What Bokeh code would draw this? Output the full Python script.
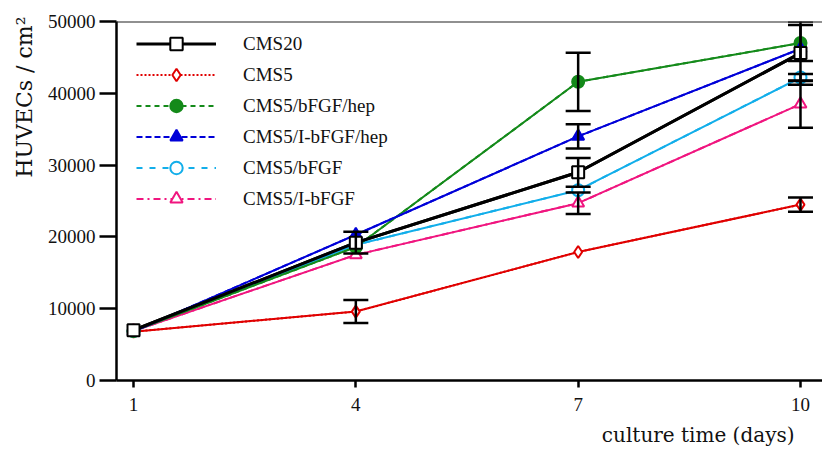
from bokeh.plotting import figure
from bokeh.models import (Range1d, FixedTicker, Whisker, TeeHead, ColumnDataSource,
                          Legend, LegendItem, Span, BasicTickFormatter, Title)
from bokeh.embed import file_html
from bokeh.resources import INLINE

# ---- data ----
days = [1, 4, 7, 10]
x_ticks = [1, 4, 7, 10]
y_ticks = [0, 10000, 20000, 30000, 40000, 50000]

names = ["CMS20", "CMS5", "CMS5/bFGF/hep", "CMS5/I-bFGF/hep", "CMS5/bFGF", "CMS5/I-bFGF"]
cms20 = [7000, 19200, 29000, 45600]
cms20_err = [0, 1500, 2000, 4400]
cms5 = [6800, 9600, 17900, 24500]
cms5_err = [0, 1600, 0, 1000]
cms5_bfgf_hep = [6900, 18600, 41600, 47000]
cms5_bfgf_hep_err = [0, 0, 4050, 2500]
cms5_ibfgf_hep = [6800, 20300, 34000, 46200]
cms5_ibfgf_hep_err = [0, 0, 1700, 0]
cms5_bfgf = [6900, 18900, 26500, 42200]
cms5_bfgf_err = [0, 0, 0, 500]
cms5_ibfgf = [6900, 17500, 24700, 38500]
cms5_ibfgf_err = [0, 0, 1500, 3300]

values = [cms20, cms5, cms5_bfgf_hep, cms5_ibfgf_hep, cms5_bfgf, cms5_ibfgf]
errors = [cms20_err, cms5_err, cms5_bfgf_hep_err, cms5_ibfgf_hep_err, cms5_bfgf_err, cms5_ibfgf_err]

x_title = "culture time (days)"
y_title = "HUVECs / cm²"

# ---- styles ----
colors = ["#000000", "#e00000", "#148a1a", "#0000d8", "#12aeea", "#f0157f"]
markers = ["square", "diamond", "circle", "triangle", "circle", "triangle"]
fills = ["white", "white", "#148a1a", "#0000d8", "white", "white"]
widths = [3, 2, 2, 2, 2, 2]
dashes = ["solid", "2 2", "5 4", "6 3", "6 7", "7 4 2 4"]
FONT = "Liberation Serif"
TFONT = "DejaVu Serif"

p = figure(width=822, height=453, title=None,
           x_range=Range1d(0.7706, 10.297), y_range=Range1d(0, 50000),
           output_backend="svg", toolbar_location=None,
           min_border_left=116, min_border_right=0, min_border_top=21, min_border_bottom=72)
p.xgrid.visible = False
p.ygrid.visible = False
p.outline_line_color = None
p.background_fill_color = "white"

for ax in (p.xaxis[0], p.yaxis[0]):
    ax.axis_line_width = 2.5
    ax.axis_line_color = "black"
    ax.major_tick_line_width = 2.5
    ax.major_tick_line_color = "black"
    ax.minor_tick_line_color = None
    ax.major_tick_in = 0
    ax.major_label_text_font = FONT
    ax.major_label_text_font_size = "19px"
    ax.major_label_text_color = "#111111"

p.yaxis.ticker = FixedTicker(ticks=y_ticks)
p.yaxis.formatter = BasicTickFormatter(use_scientific=False)
p.yaxis.major_tick_out = 17
p.yaxis.major_label_standoff = 4
p.xaxis.ticker = FixedTicker(ticks=x_ticks)
p.xaxis.major_tick_out = 7
p.xaxis.major_label_standoff = 10

p.add_layout(Span(location=50000, dimension="width", line_color="#222222", line_width=2))

draw_order = [1, 5, 4, 2, 3, 0]

# dashed copies (used for the legend samples), hidden beneath the solid lines
dash_r = {}
for i in draw_order:
    dash_r[i] = p.line(days, values[i], line_color=colors[i], line_width=widths[i],
                       line_dash=dashes[i])

# solid lines
for i in draw_order:
    p.line(days, values[i], line_color=colors[i], line_width=widths[i])

# error bars
eb_x, eb_lo, eb_hi = [], [], []
for vals, errs in zip(values, errors):
    for d, v, e in zip(days, vals, errs):
        if e > 0:
            eb_x.append(d)
            eb_lo.append(v - e)
            eb_hi.append(v + e)
eb_src = ColumnDataSource(dict(x=eb_x, lower=eb_lo, upper=eb_hi))
wh = Whisker(source=eb_src, base="x", lower="lower", upper="upper",
             line_color="black", line_width=2.5, level="glyph",
             upper_head=TeeHead(size=25, line_width=2.5, line_color="black"),
             lower_head=TeeHead(size=25, line_width=2.5, line_color="black"))
p.add_layout(wh)

# markers
sc_r = {}
for i in draw_order:
    sc_r[i] = p.scatter(days, values[i], marker=markers[i], size=12, fill_color=fills[i],
                        line_color=colors[i], line_width=2)

items = [LegendItem(label=name, renderers=[dash_r[i], sc_r[i]]) for i, name in enumerate(names)]
legend = Legend(items=items, location=(20, 166), border_line_color=None,
                background_fill_alpha=0, glyph_width=80, glyph_height=31,
                label_height=31, spacing=0, padding=0, margin=0, label_standoff=27,
                label_text_font=FONT, label_text_font_size="19px", label_text_color="#111111")
p.add_layout(legend)

p.add_layout(Title(text=y_title, align="right", offset=-5, standoff=15,
                   text_font=TFONT, text_font_size="22px", text_font_style="normal",
                   text_color="#111111"), "left")
p.add_layout(Title(text=x_title, align="right", offset=28, standoff=14,
                   text_baseline="middle",
                   text_font=TFONT, text_font_size="20px", text_font_style="normal",
                   text_color="#111111"), "below")

open("out.html", "w").write(file_html(p, INLINE))
